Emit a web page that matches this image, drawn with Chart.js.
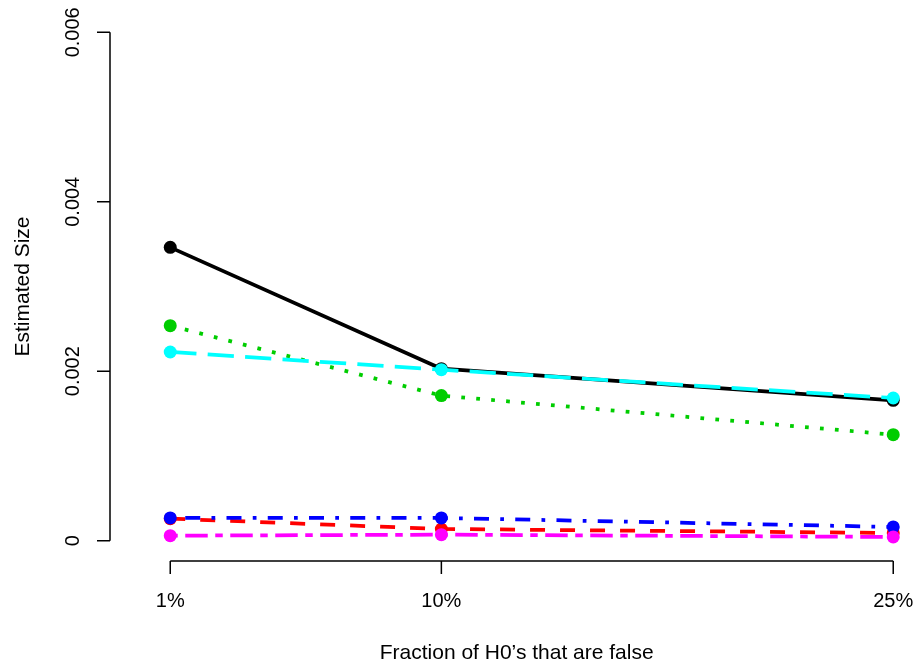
<!DOCTYPE html>
<html>
<head>
<meta charset="utf-8">
<script src="https://cdn.jsdelivr.net/npm/chart.js@4"></script>
<style>
  html, body { margin: 0; padding: 0; background: #fff; }
  canvas { display: block; }
</style>
</head>
<body>
<canvas id="sizeChart" width="916" height="666"></canvas>
<script>
// data
const fractions = [1, 10, 25];
const xTickLabels = ["1%", "10%", "25%"];
const yTicks = [0, 0.002, 0.004, 0.006];
const yTickLabels = ["0", "0.002", "0.004", "0.006"];

const method1 = [0.003462, 0.00203, 0.001656];
const method2 = [0.00026, 0.000138, 0.000091];
const method3 = [0.002538, 0.001712, 0.001251];
const method4 = [0.000268, 0.000268, 0.000162];
const method5 = [0.002227, 0.002018, 0.001684];
const method6 = [0.000059, 0.000071, 0.000044];

const xTitle = "Fraction of H0\u2019s that are false";
const yTitle = "Estimated Size";

// R style: col 1:6, lty 1:6, lwd 3
const u = 3.75;
const series = [
  { data: method1, color: "#000000", dash: [] },
  { data: method2, color: "#FF0000", dash: [4 * u, 4 * u] },
  { data: method3, color: "#00CD00", dash: [1 * u, 3 * u] },
  { data: method4, color: "#0000FF", dash: [1 * u, 3 * u, 4 * u, 3 * u] },
  { data: method5, color: "#00FFFF", dash: [7 * u, 3 * u] },
  { data: method6, color: "#FF00FF", dash: [2 * u, 2 * u, 6 * u, 2 * u] },
];

// R-like axes drawn off the chart scales
const rAxes = {
  id: "rAxes",
  afterDatasetsDraw(chart) {
    const ctx = chart.ctx;
    const xs = chart.scales.x;
    const ys = chart.scales.y;
    const area = chart.chartArea;
    ctx.save();
    ctx.strokeStyle = "#000";
    ctx.fillStyle = "#000";
    ctx.lineWidth = 1.5;
    ctx.lineCap = "butt";

    // x axis
    const yb = area.bottom;
    ctx.beginPath();
    ctx.moveTo(xs.getPixelForValue(fractions[0]), yb);
    ctx.lineTo(xs.getPixelForValue(fractions[fractions.length - 1]), yb);
    fractions.forEach(function (f) {
      const px = xs.getPixelForValue(f);
      ctx.moveTo(px, yb);
      ctx.lineTo(px, yb + 13);
    });
    ctx.stroke();

    ctx.font = "20px 'Liberation Sans', Arial, sans-serif";
    ctx.textAlign = "center";
    ctx.textBaseline = "alphabetic";
    fractions.forEach(function (f, i) {
      ctx.fillText(xTickLabels[i], xs.getPixelForValue(f), yb + 46);
    });

    // y axis
    const xl = area.left;
    ctx.beginPath();
    ctx.moveTo(xl, ys.getPixelForValue(yTicks[0]));
    ctx.lineTo(xl, ys.getPixelForValue(yTicks[yTicks.length - 1]));
    yTicks.forEach(function (t) {
      const py = ys.getPixelForValue(t);
      ctx.moveTo(xl, py);
      ctx.lineTo(xl - 13, py);
    });
    ctx.stroke();

    yTicks.forEach(function (t, i) {
      ctx.save();
      ctx.translate(xl - 31, ys.getPixelForValue(t));
      ctx.rotate(-Math.PI / 2);
      ctx.fillText(yTickLabels[i], 0, 0);
      ctx.restore();
    });

    // titles
    ctx.font = "21px 'Liberation Sans', Arial, sans-serif";
    const midX = (xs.getPixelForValue(-1) + xs.getPixelForValue(26)) / 2;
    ctx.fillText(xTitle, midX, 659);
    ctx.save();
    ctx.translate(29, (area.top + area.bottom) / 2);
    ctx.rotate(-Math.PI / 2);
    ctx.fillText(yTitle, 0, 0);
    ctx.restore();

    ctx.restore();
  },
};

const ctx = document.getElementById("sizeChart").getContext("2d");
new Chart(ctx, {
  type: "line",
  data: {
    datasets: series.map(function (s, i) {
      return {
        data: fractions.map(function (f, j) { return { x: f, y: s.data[j] }; }),
        borderColor: s.color,
        backgroundColor: s.color,
        borderWidth: u,
        borderDash: s.dash,
        borderCapStyle: "butt",
        borderJoinStyle: "round",
        pointRadius: 6.5,
        pointBorderWidth: 0,
        pointBackgroundColor: s.color,
        tension: 0,
        fill: false,
        order: series.length - i, // later series drawn on top, like R
      };
    }),
  },
  options: {
    responsive: false,
    animation: false,
    layout: { padding: { left: 110, top: 12, right: 0, bottom: 105 } },
    plugins: {
      legend: { display: false },
      tooltip: { enabled: false },
    },
    scales: {
      x: { type: "linear", display: false, min: -1, max: 25.54 },
      y: { type: "linear", display: false, min: -0.00024, max: 0.00624 },
    },
  },
  plugins: [rAxes],
});
</script>
</body>
</html>
